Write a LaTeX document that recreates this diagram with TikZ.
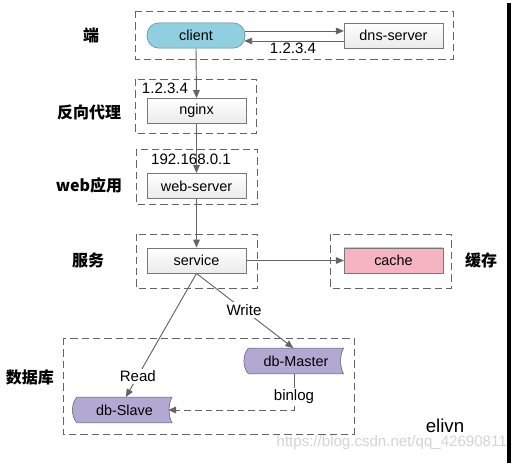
\documentclass[tikz,border=0pt]{standalone}
\usepackage{fontspec}
\setmainfont{Liberation Sans}
\newfontfamily\cjk{Noto Sans CJK SC}
\usetikzlibrary{arrows.meta,calc}
\definecolor{lineg}{RGB}{100,100,100}
\definecolor{boxb}{RGB}{120,120,120}
\definecolor{clientf}{RGB}{143,207,224}
\definecolor{clientb}{RGB}{85,135,150}
\definecolor{cachef}{RGB}{245,180,194}
\definecolor{dbf}{RGB}{178,168,210}
\definecolor{dbb}{RGB}{95,95,110}
\definecolor{wm}{RGB}{212,212,212}
\tikzset{
  boxtxt/.style={font=\fontsize{10.8}{12}\selectfont},
  plainbox/.style={boxtxt, draw=boxb, top color=white, bottom color=black!8, minimum width=74pt, minimum height=19pt, inner sep=0pt},
  clientbox/.style={boxtxt, draw=clientb, fill=clientf, rounded corners=9pt, minimum width=73.5pt, minimum height=19pt, inner sep=0pt},
  cachebox/.style={plainbox, top color=cachef, bottom color=cachef},
  dbnode/.style={boxtxt, minimum width=71pt, minimum height=19pt, inner sep=0pt},
  dbshape/.style={draw=dbb, fill=dbf},
  group/.style={draw=lineg, dashed, dash pattern=on 5.5pt off 3pt, line width=0.6pt},
  arr/.style={draw=lineg, line width=0.7pt, -{Triangle[length=6pt,width=5pt]}},
  conn/.style={draw=lineg, line width=0.7pt},
  lbl/.style={font=\fontsize{11.3}{13}\selectfont},
  cjklbl/.style={font=\cjk\bfseries\fontsize{12}{14}\selectfont},
}
\begin{document}
\begin{tikzpicture}[x=0.75pt,y=-0.75pt]
\useasboundingbox (0,0) rectangle (529,468);
\fill[white] (0,0) rectangle (529,468);
% groups
\draw[group] (135,11) rectangle (453,59);
\draw[group] (135,79) rectangle (256,133);
\draw[group] (136,149) rectangle (257,204);
\draw[group] (136,234) rectangle (257,288);
\draw[group] (330,234) rectangle (451,288);
\draw[group] (63,338) rectangle (354,434);
% side labels
\node[cjklbl] (l1) at (91,35) {端};
\node[cjklbl] (l2) at (89,112) {反向代理};
\node[cjklbl] (l3) at (89,185) {web应用};
\node[cjklbl] (l4) at (88,260) {服务};
\node[cjklbl] (l5) at (481,260) {缓存};
\node[cjklbl] (l6) at (30,377) {数据库};
% nodes
\node[clientbox] (client) at (196,35.5) {client};
\node[plainbox] (dns) at (393.5,35.5) {dns-server};
\node[plainbox] (nginx) at (196.5,111) {nginx};
\node[plainbox] (web) at (196.5,186) {web-server};
\node[plainbox] (service) at (196.5,260.5) {service};
\node[cachebox] (cache) at (393.5,260.5) {cache};
\node[dbnode] (master) at (296,361) {};
\node[dbnode] (slave) at (124.5,410) {};
\path[dbshape] (master.north west) -- (master.north east)
  .. controls ($(master.north east)+(-4,7)$) and ($(master.south east)+(-4,-7)$) .. (master.south east)
  -- (master.south west)
  .. controls ($(master.south west)+(-6,-7)$) and ($(master.north west)+(-6,7)$) .. (master.north west) -- cycle;
\path[dbshape] (slave.north west) -- (slave.north east)
  .. controls ($(slave.north east)+(-4,7)$) and ($(slave.south east)+(-4,-7)$) .. (slave.south east)
  -- (slave.south west)
  .. controls ($(slave.south west)+(-6,-7)$) and ($(slave.north west)+(-6,7)$) .. (slave.north west) -- cycle;
\node[boxtxt] (mastert) at (master) {db-Master};
\node[boxtxt] (slavet) at (slave) {db-Slave};
% connectors
\draw[arr] ([yshift=3.4pt]client.east) -- ([yshift=3.4pt]dns.west);
\draw[arr] ([yshift=-4.1pt]dns.west) -- ([yshift=-4.1pt,xshift=-0.8pt]client.east);
\node[lbl] (ip1) at (293,48) {1.2.3.4};
\draw[arr] (client.south) -- (nginx.north);
\node[lbl] (ip2) at (165,88) {1.2.3.4};
\draw[arr] (nginx.south) -- (web.north);
\node[lbl] (ip3) at (191,159) {192.168.0.1};
\draw[arr] (web.south) -- (service.north);
\draw[arr] (service.east) -- (cache.west);
\draw[arr] (service.south) -- node[lbl, fill=white, inner sep=1.5pt, pos=0.49] (w) {Write} ([xshift=-2pt]master.north);
\draw[arr] (service.south) -- node[lbl, fill=white, inner sep=1.5pt, pos=0.83] (r) {Read} ([xshift=1pt]slave.north);
\node[lbl, fill=white, inner sep=1.5pt] (binlog) at (294,397) {binlog};
\draw[conn] (master.south -| binlog.north) -- (binlog.north);
\coordinate (bl) at (binlog.south);
\draw[arr, dashed, dash pattern=on 5pt off 3pt] (bl) |- ([xshift=-3pt]slave.east);
% extras
\node[font=\fontsize{14}{16}\selectfont, inner sep=0pt] (elivn) at (445,426) {elivn};
\node[font=\fontsize{11.3}{13}\selectfont, text=wm, anchor=east, inner sep=0pt] (wmark) at (507,443) {https://blog.csdn.net/qq\_42690811};
\coordinate (bt) at (509,3);
\coordinate (bb) at (509,463);
\draw[black, line width=2.3pt] (bt) -- (bb);
\end{tikzpicture}
\end{document}
